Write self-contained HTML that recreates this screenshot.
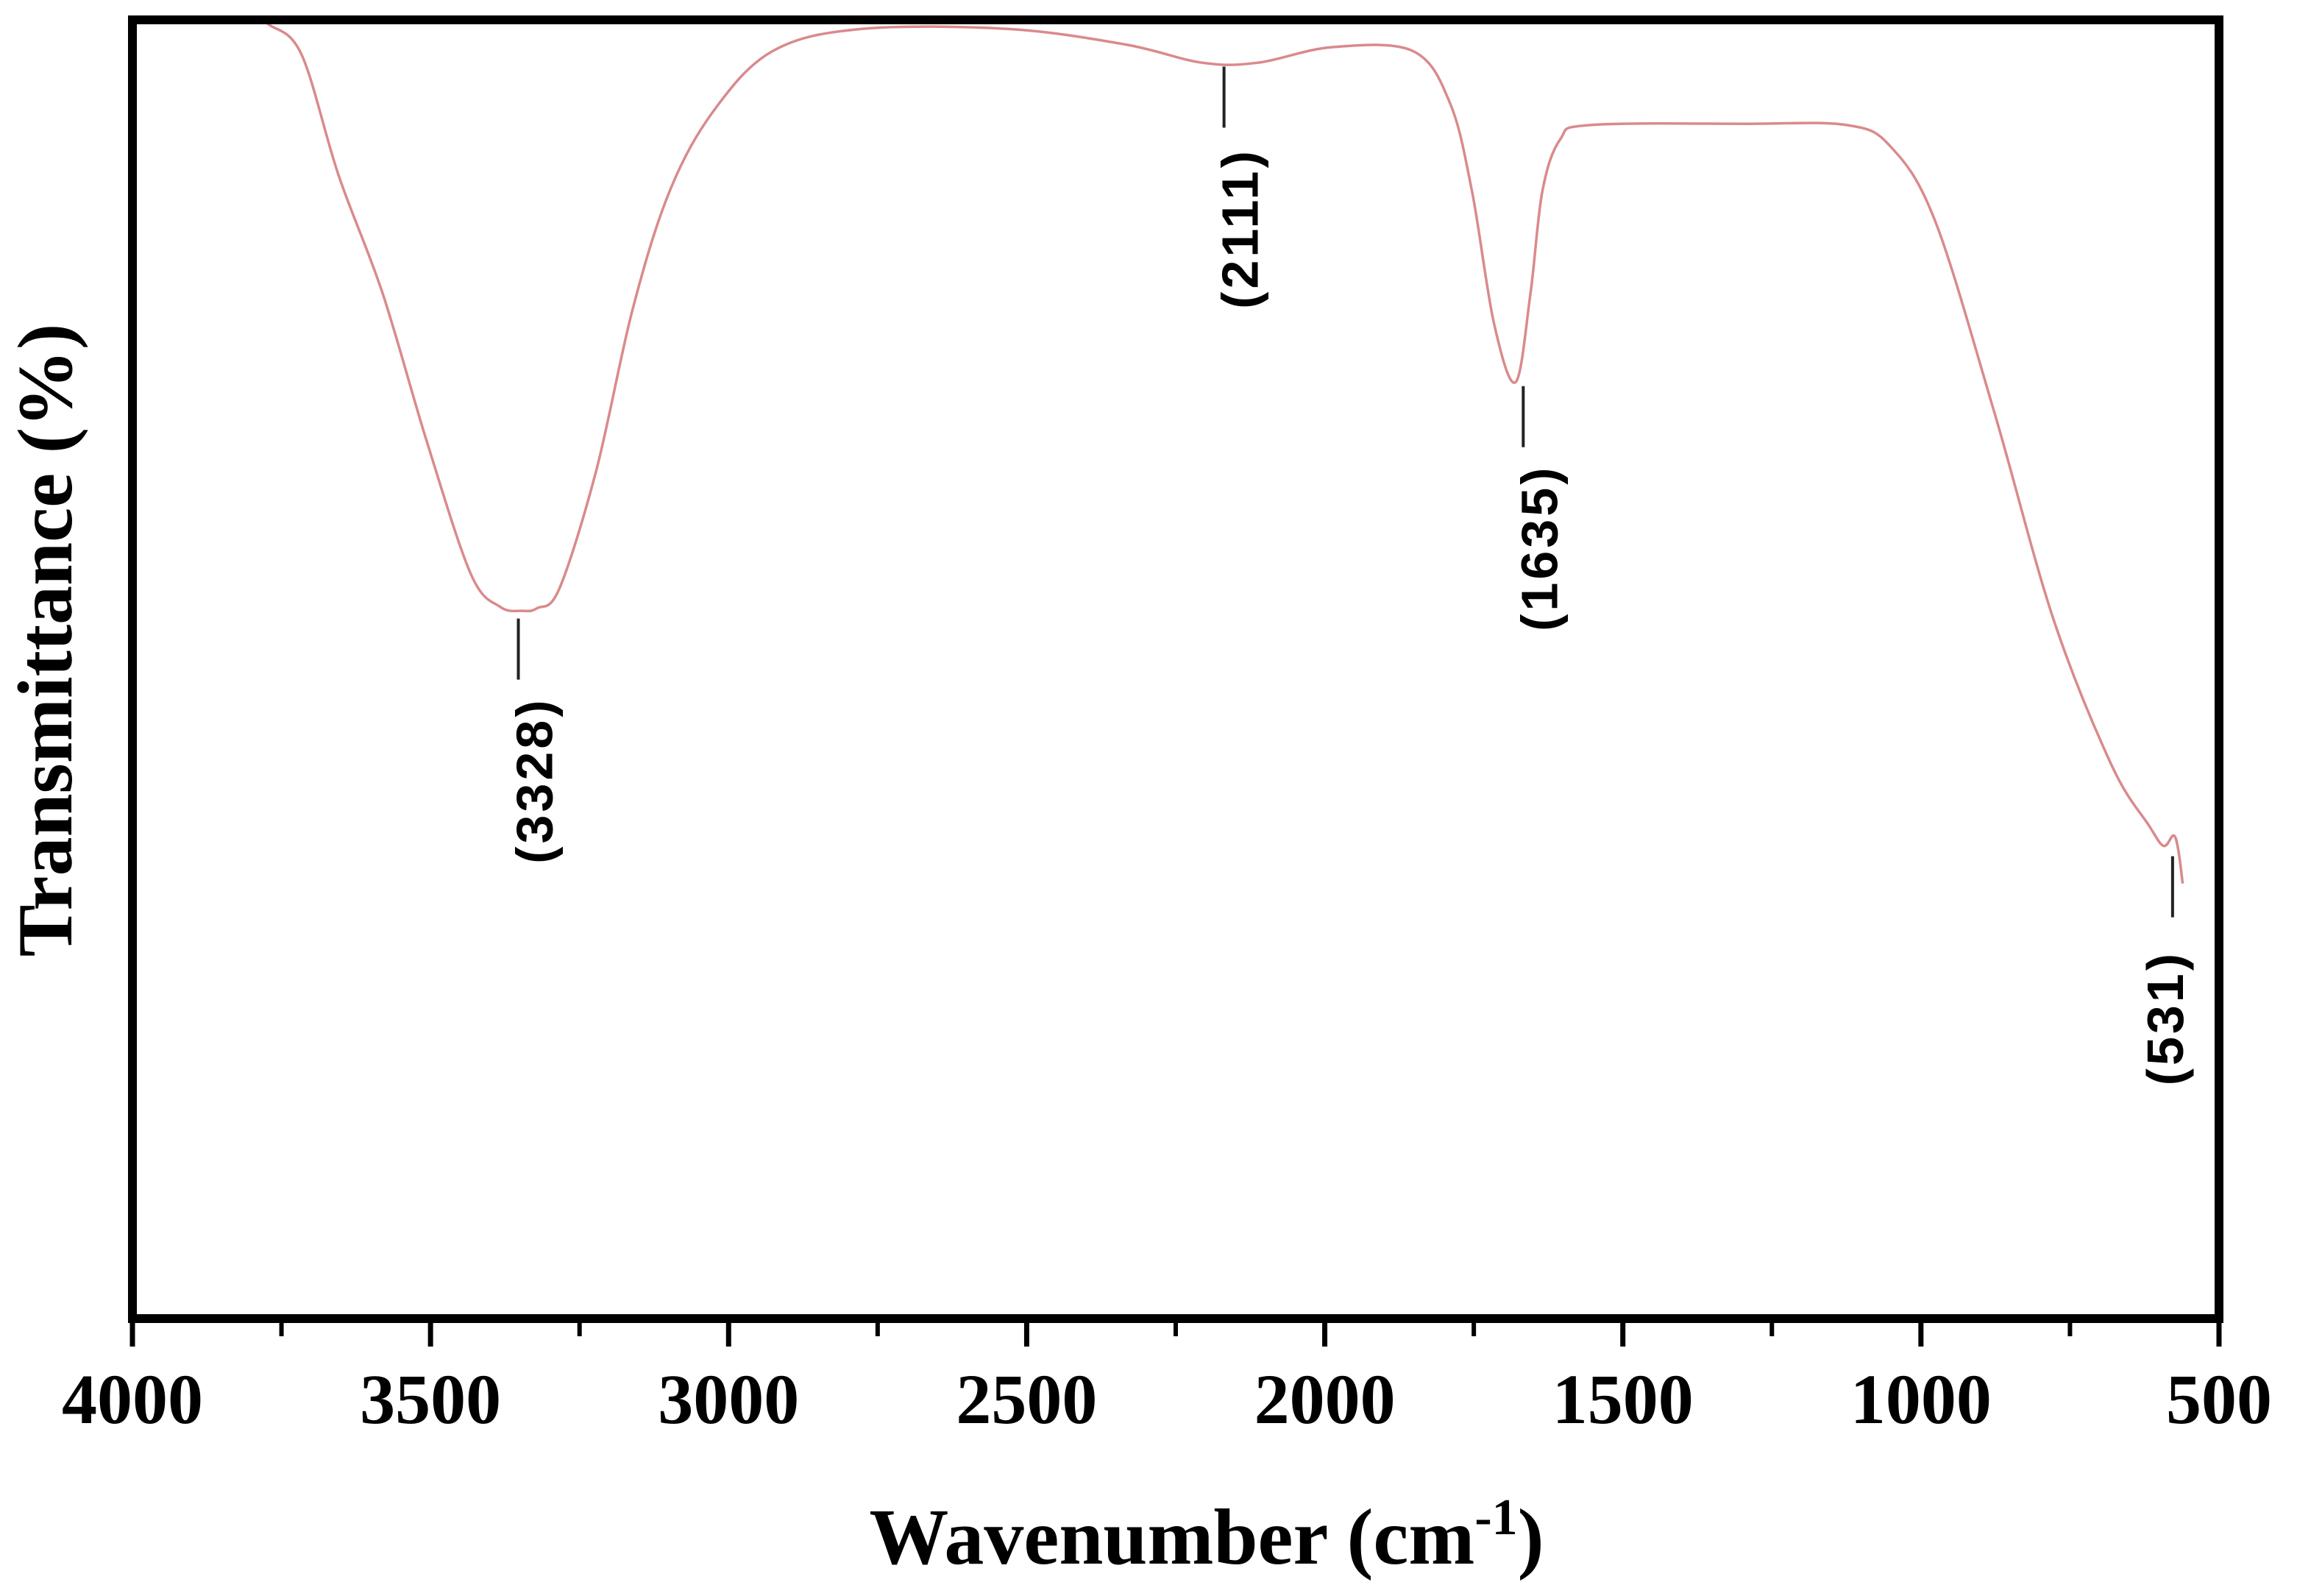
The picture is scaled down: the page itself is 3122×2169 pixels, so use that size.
<!DOCTYPE html>
<html><head><meta charset="utf-8"><style>
html,body{margin:0;padding:0;background:#fff;}
svg{display:block;}
</style></head><body>
<svg id="chart" width="3122" height="2169" viewBox="0 0 3122 2169" xmlns="http://www.w3.org/2000/svg">
<rect x="0" y="0" width="3122" height="2169" fill="#fff"/>
<g id="plot"></g>
</svg>
<script>
const wavenumbers = [4000,3900,3800,3770,3716,3654,3580,3506,3432,3383,3346,3321,3284,3222,3161,3099,3025,2926,2778,2531,2334,2206,2112,1988,1852,1790,1753,1716,1680,1655,1635,1605,1556,1297,1124,1050,976,877,778,680,618,593,576,568,561];
const transmittance = [100,100,100,99.6,97.3,88,78.9,67.5,57.3,54.8,54.5,54.7,56.2,65.3,77.7,86.8,93,97.6,99.3,99.3,98.1,96.7,96.7,97.9,97.6,93.6,86.8,76.6,72.1,78.9,86.8,90.8,91.9,92,91.9,90.2,84.5,69.8,53.9,42.6,38,36.4,37.2,36.0,33.5];
const xTicks = [4000,3500,3000,2500,2000,1500,1000,500];
const xMinorTicks = [3750,3250,2750,2250,1750,1250,750];
const peakLabels = ["(3328)","(2111)","(1635)","(531)"];
const peakWavenumbers = [3328,2111,1635,531];
const peakLabelT = [53.9,96.4,71.8,35.6];

const NS="http://www.w3.org/2000/svg";
const X0=180,X1=3016,Y0=27,Y1=1792;
const peakOffsetX=[-20,-47,-26,-38];
function xs(w){return X0+(4000-w)*(X1-X0)/3500;}
function ys(t){return Y1-(t/100)*(Y1-Y0);}
const svg=document.getElementById('chart');
const plot=document.getElementById('plot');
function mk(tag,attrs,parent){const e=document.createElementNS(NS,tag);for(const k in attrs)e.setAttribute(k,attrs[k]);(parent||svg).appendChild(e);return e;}

// spectrum (Catmull-Rom smoothing)
const pts=wavenumbers.map((w,i)=>[xs(w),ys(transmittance[i])]);
let d='M'+pts[0][0].toFixed(1)+','+pts[0][1].toFixed(1);
for(let i=0;i<pts.length-1;i++){
  const p0=pts[Math.max(0,i-1)],p1=pts[i],p2=pts[i+1],p3=pts[Math.min(pts.length-1,i+2)];
  const c1x=p1[0]+(p2[0]-p0[0])/6,c1y=p1[1]+(p2[1]-p0[1])/6;
  const c2x=p2[0]-(p3[0]-p1[0])/6,c2y=p2[1]-(p3[1]-p1[1])/6;
  d+='C'+c1x.toFixed(1)+','+c1y.toFixed(1)+' '+c2x.toFixed(1)+','+c2y.toFixed(1)+' '+p2[0].toFixed(1)+','+p2[1].toFixed(1);
}
const line=mk('path',{d:d,fill:'none',stroke:'#d98a8c','stroke-width':3.5,'stroke-linejoin':'round'},plot);



// frame
const frame=mk('rect',{x:X0,y:Y0,width:X1-X0,height:Y1-Y0,fill:'none',stroke:'#000','stroke-width':12});



// ticks
xTicks.forEach(v=>{
  const t=mk('line',{x1:xs(v),x2:xs(v),y1:Y1,y2:Y1+38,stroke:'#000','stroke-width':7});
  
  
  const lb=mk('text',{x:xs(v),y:1934,'text-anchor':'middle','font-family':'Liberation Serif, serif','font-weight':'bold','font-size':96,fill:'#000'});
  lb.textContent=v;
  
  
});
xMinorTicks.forEach(v=>{
  const t=mk('line',{x1:xs(v),x2:xs(v),y1:Y1,y2:Y1+24,stroke:'#000','stroke-width':6});
  
  
});

// peak annotations
peakWavenumbers.forEach((w,i)=>{
  const yTop=ys(peakLabelT[i]);
  const x=xs(w)+peakOffsetX[i];
  const ln=mk('line',{x1:x,x2:x,y1:yTop,y2:yTop+83,stroke:'#222','stroke-width':4});
  
  
  const cy=yTop+220, cx=x+(i===3?-10:22);
  const tx=mk('text',{x:0,y:0,transform:'translate('+cx+','+cy+') rotate(-90)','text-anchor':'middle','dominant-baseline':'central','font-family':'Liberation Sans, sans-serif','font-weight':'bold','font-size':70,'letter-spacing':4,fill:'#000'});
  tx.textContent=peakLabels[i];
  
  
});

// axis titles
const xt=mk('text',{x:1640,y:2125,'text-anchor':'middle','font-family':'Liberation Serif, serif','font-weight':'bold','font-size':108,fill:'#000'});
xt.innerHTML='Wavenumber (cm<tspan font-size="70" dy="-40">-1</tspan><tspan dy="40">)</tspan>';


const yt=mk('text',{x:0,y:0,transform:'translate(97,870) rotate(-90)','text-anchor':'middle','font-family':'Liberation Serif, serif','font-weight':'bold','font-size':106,fill:'#000'});
yt.textContent='Transmittance (%)';


</script>
</body></html>
